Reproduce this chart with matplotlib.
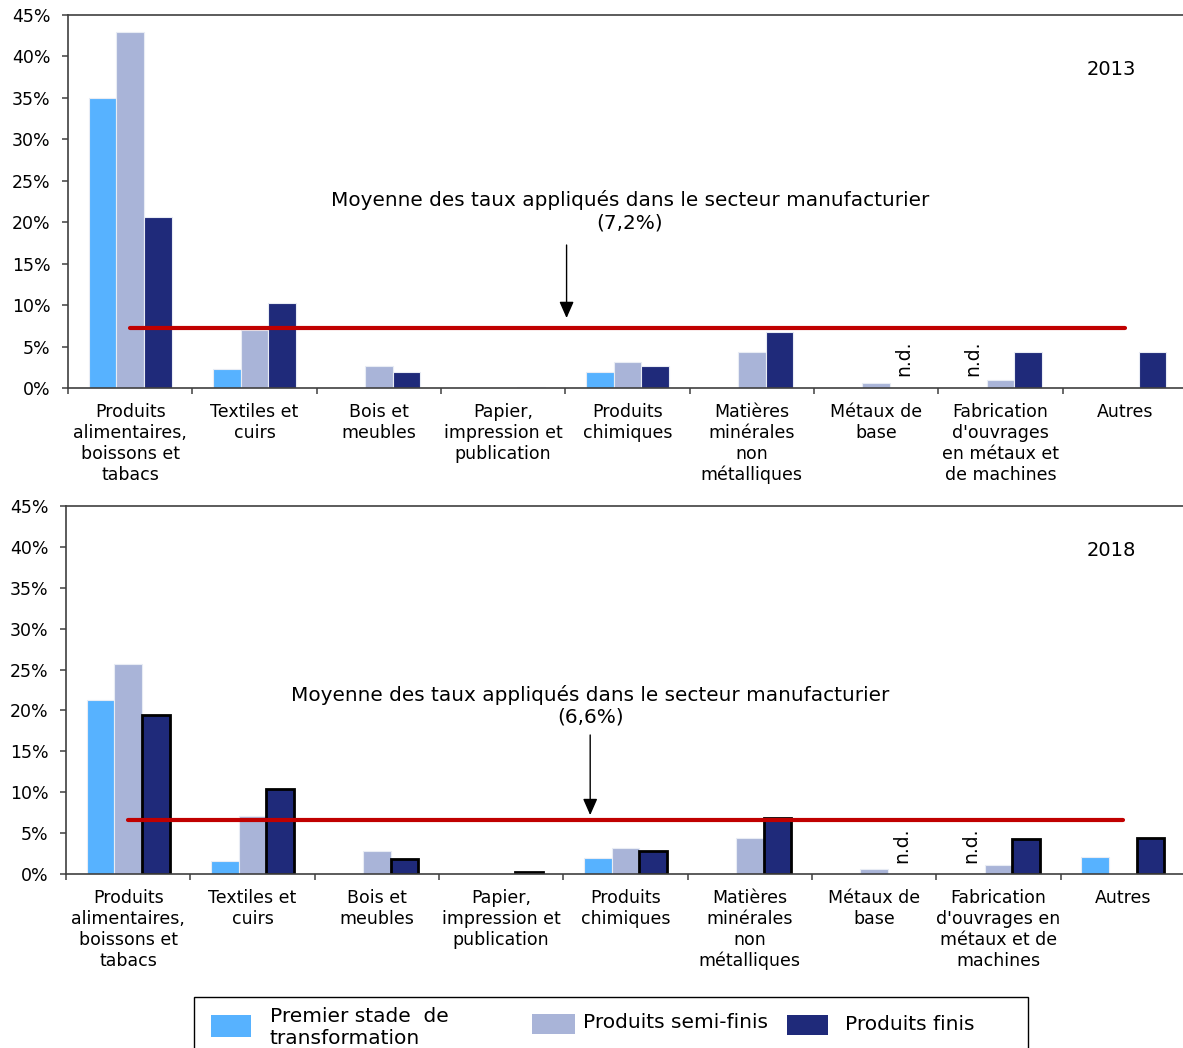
import numpy as np
import matplotlib
matplotlib.use("Agg")
import matplotlib.pyplot as plt
from matplotlib.patches import Rectangle

# ---------------- data ----------------
cats_2013 = ["Produits\nalimentaires,\nboissons et\ntabacs", "Textiles et\ncuirs", "Bois et\nmeubles",
             "Papier,\nimpression et\npublication", "Produits\nchimiques", "Matières\nminérales\nnon\nmétalliques",
             "Métaux de\nbase", "Fabrication\nd'ouvrages\nen métaux et\nde machines", "Autres"]
cats_2018 = ["Produits\nalimentaires,\nboissons et\ntabacs", "Textiles et\ncuirs", "Bois et\nmeubles",
             "Papier,\nimpression et\npublication", "Produits\nchimiques", "Matières\nminérales\nnon\nmétalliques",
             "Métaux de\nbase", "Fabrication\nd'ouvrages en\nmétaux et de\nmachines", "Autres"]

series_names = ["Premier stade  de\ntransformation", "Produits semi-finis", "Produits finis"]

premier_2013 = [35.0, 2.3, 0.0, 0.0, 1.95, 0.0, 0.0, np.nan, 0.0]
semi_2013 = [43.0, 7.0, 2.65, 0.05, 3.1, 4.3, 0.6, 1.0, 0.0]
finis_2013 = [20.6, 10.3, 1.9, 0.1, 2.7, 6.7, np.nan, 4.3, 4.3]
avg_2013 = 7.2

premier_2018 = [21.3, 1.6, 0.0, 0.0, 2.0, 0.0, 0.0, np.nan, 2.1]
semi_2018 = [25.7, 7.1, 2.8, 0.05, 3.2, 4.45, 0.6, 1.05, 0.0]
finis_2018 = [19.4, 10.35, 1.8, 0.25, 2.85, 6.8, np.nan, 4.3, 4.4]
avg_2018 = 6.6

yticks = [0, 5, 10, 15, 20, 25, 30, 35, 40, 45]
ytick_labels = [f"{v}%" for v in yticks]

# ---------------- style ----------------
colors = ["#57B2FF", "#A9B4D8", "#1F2A7A"]
red = "#C00000"
spine_c = "#404040"
W, H = 1183, 1048

fig = plt.figure(figsize=(W / 100, H / 100), dpi=100)

def make_panel(rect, cats, series, avg, year, txt_xy, arrow_x, arrow_y, year_xy, black_edges):
    ax = fig.add_axes(rect)
    x = np.arange(len(cats))
    width = 0.222
    for k, vals in enumerate(series):
        vals = np.array(vals, dtype=float)
        off = (k - 1) * width
        if black_edges and k == 2:
            ec, lw = "black", 2.0
        else:
            ec, lw = "#E8ECF4", 0.8
        ok = ~np.isnan(vals) & (vals > 0)
        ax.bar(x[ok] + off, vals[ok], width, color=colors[k], edgecolor=ec,
               linewidth=lw, zorder=2)
        for i in np.where(np.isnan(vals))[0]:
            ax.text(x[i] + off, 1.4, "n.d.", rotation=90, ha="center", va="bottom",
                    fontsize=13.5, color="black", zorder=4)
    ax.plot([x[0], x[-1]], [avg, avg], color=red, lw=3.0, solid_capstyle="round", zorder=3)
    ax.text(txt_xy[0], txt_xy[1],
            "Moyenne des taux appliqués dans le secteur manufacturier\n(" +
            f"{avg:.1f}".replace(".", ",") + "%)",
            ha="center", va="center", multialignment="center", fontsize=14.4,
            linespacing=1.2, color="black")
    ax.annotate("", xy=(arrow_x, arrow_y[1]), xytext=(arrow_x, arrow_y[0]),
                arrowprops=dict(arrowstyle="-|>,head_length=0.5,head_width=0.22",
                                color="black", lw=1.0, mutation_scale=20,
                                shrinkA=0, shrinkB=0))
    ax.text(year_xy[0], year_xy[1], year, ha="center", va="center", fontsize=14, color="black")

    ax.set_xlim(-0.5, len(cats) - 0.5)
    ax.set_ylim(0, 45)
    ax.set_yticks(yticks)
    ax.set_yticklabels(ytick_labels, fontsize=12.5)
    ax.set_xticks(x)
    ax.set_xticklabels(cats, fontsize=12.5, linespacing=1.22)
    ax.set_xticks(np.arange(-0.5, len(cats) + 0.5, 1.0), minor=True)
    ax.tick_params(axis="x", which="major", length=0, pad=10.5)
    ax.tick_params(axis="x", which="minor", length=4, width=1.1, color=spine_c)
    ax.tick_params(axis="y", length=4, width=1.1, color=spine_c, pad=8.5)
    for s in ["left", "bottom", "top"]:
        ax.spines[s].set_color(spine_c)
        ax.spines[s].set_linewidth(1.2)
    ax.spines["right"].set_visible(False)
    return ax

make_panel([68 / W, 1 - 388 / H, 1119 / W, (388 - 15) / H], cats_2013,
           [premier_2013, semi_2013, finis_2013], avg_2013, "2013",
           (4.02, 21.35), 3.51, (17.25, 8.44), (7.89, 38.4), False)

make_panel([66 / W, 1 - 874 / H, 1119 / W, (874 - 506) / H], cats_2018,
           [premier_2018, semi_2018, finis_2018], avg_2018, "2018",
           (3.716, 20.6), 3.716, (17.0, 7.2), (7.91, 39.5), True)

# ---------------- legend (manual, cropped at the bottom like the reference) ----------------
def fx(px):
    return px / W

def fy(py):
    return 1 - py / H

fig.add_artist(Rectangle((fx(194), fy(1070)), fx(1028) - fx(194), fy(997) - fy(1070),
                         transform=fig.transFigure, facecolor="white", edgecolor="black",
                         linewidth=1.0, clip_on=False))
patch_boxes = [(211, 1015, 251, 1037), (532, 1014, 575, 1034), (787, 1015, 828, 1035)]
text_pos = [(270, 1027), (583, 1022), (845, 1025)]
for k in range(3):
    x0, y0, x1, y1 = patch_boxes[k]
    fig.add_artist(Rectangle((fx(x0), fy(y1)), fx(x1) - fx(x0), fy(y0) - fy(y1),
                             transform=fig.transFigure, facecolor=colors[k], edgecolor="none"))
    fig.text(fx(text_pos[k][0]), fy(text_pos[k][1]), series_names[k], ha="left", va="center",
             fontsize=14.5, linespacing=1.2, color="black")

fig.savefig("out.png", dpi=100)
